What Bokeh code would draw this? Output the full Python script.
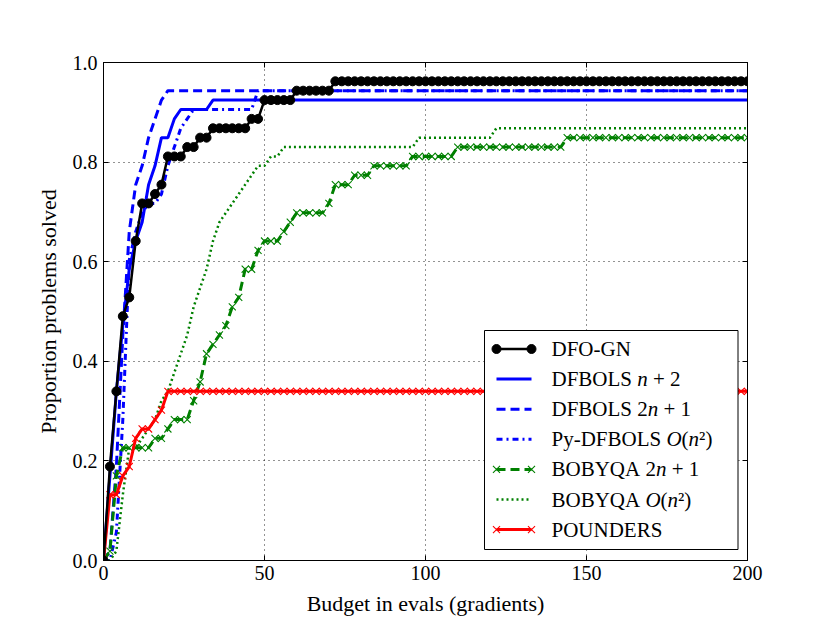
from bokeh.plotting import figure
from bokeh.models import Range1d, LinearAxis, FixedTicker, PrintfTickFormatter
from bokeh.core.properties import value
from bokeh.embed import file_html
from bokeh.resources import INLINE

# ---------------- data (counts of solved problems out of 53) ----------------
N_PROBLEMS = 53
BUDGET = list(range(0, 201, 2))          # budget in evals (gradients)
X_TICKS = [0, 50, 100, 150, 200]
Y_TICKS = [0.0, 0.2, 0.4, 0.6, 0.8, 1.0]

DFO_GN = ([0, 10, 18, 26, 28, 34, 38, 38, 39, 40, 43, 43, 43, 44, 44, 45, 45]
          + [46] * 6 + [47] * 2 + [49] * 5 + [50] * 6 + [51] * 65)
DFBOLS_NP2 = ([0, 9, 18, 25, 31, 34, 36, 40, 42, 45, 45, 47, 48]
              + [48] * 4 + [49] * 84)
DFBOLS_2NP1 = [0, 1, 10, 24, 35, 40, 42, 45, 47, 49] + [50] * 91
PY_DFBOLS_ON2 = ([0, 0, 3, 15, 32, 35, 37, 38, 38, 39, 42, 44, 46, 47]
                 + [48] * 10 + [50] * 77)
BOBYQA_2NP1 = ([0, 1, 9, 12, 12, 12, 12, 12, 13, 13, 14, 15, 15, 15, 17, 19,
                22, 23, 24, 25, 27, 28, 31, 31, 33, 34, 34, 34, 35, 36]
               + [37] * 5 + [38] * 1 + [40] * 3 + [41] * 3 + [42] * 6
               + [43] * 7 + [44] * 17 + [45] * 29)
BOBYQA_ON2 = ([0, 0, 1, 7, 12, 12, 13, 14, 15, 17, 18, 20, 22, 24, 27, 29,
               31, 34, 36, 37, 38, 39, 40, 41, 42, 42, 43, 43, 44]
              + [44] * 20 + [45] * 12 + [46] * 40)
POUNDERS = [0, 7, 7, 9, 10, 13, 14, 14, 15, 16] + [18] * 91

SERIES = [
    # label pieces, counts, color, width, dash, marker
    ([("DFBOLS ", False), ("n", True), (" + 2", False)], DFBOLS_NP2, "#0000ff", 3, "solid", None),
    ([("DFBOLS ", False), ("2", False), ("n", True), (" + 1", False)], DFBOLS_2NP1, "#0000ff", 3, "9 5", None),
    ([("Py-DFBOLS ", False), ("O", True), ("(", False), ("n", True), ("\u00b2)", False)], PY_DFBOLS_ON2, "#0000ff", 3, "6 4 2 4", None),
    ([("BOBYQA ", False), ("2", False), ("n", True), (" + 1", False)], BOBYQA_2NP1, "#008000", 3, "9 5", "x"),
    ([("BOBYQA ", False), ("O", True), ("(", False), ("n", True), ("\u00b2)", False)], BOBYQA_ON2, "#008000", 2.5, "2 3", None),
    ([("POUNDERS", False)], POUNDERS, "#ff0000", 3, "solid", "x"),
    ([("DFO-GN", False)], DFO_GN, "black", 2.5, "solid", "circle"),
]
LEGEND_ORDER = [6, 0, 1, 2, 3, 4, 5]

FONT = "Liberation Serif"

# ---------------- figure ----------------
p = figure(width=830, height=623, x_range=Range1d(0, 200), y_range=Range1d(0, 1),
           output_backend="svg", toolbar_location=None,
           min_border_left=103, min_border_right=83, min_border_top=62, min_border_bottom=63,
           background_fill_color="white", border_fill_color="white")
p.outline_line_color = "black"

xax = p.below[0]
yax = p.left[0]
top = LinearAxis()
right = LinearAxis()
p.add_layout(top, "above")
p.add_layout(right, "right")

for ax, ticks in ((xax, X_TICKS), (top, X_TICKS), (yax, Y_TICKS), (right, Y_TICKS)):
    ax.ticker = FixedTicker(ticks=ticks)
    ax.axis_line_color = "black"
    ax.major_tick_line_color = "black"
    ax.major_tick_in = 5
    ax.major_tick_out = 0
    ax.minor_tick_in = 0
    ax.minor_tick_out = 0
    ax.minor_tick_line_color = None
    ax.major_label_text_font = FONT
    ax.major_label_text_font_size = "20px"
    ax.major_label_text_color = "black"

top.major_label_text_color = None
right.major_label_text_color = None

xax.formatter = PrintfTickFormatter(format="%d")
yax.formatter = PrintfTickFormatter(format="%.1f")
xax.major_label_standoff = 5
yax.major_label_standoff = 6

for ax, lab, so in ((xax, "Budget in evals (gradients)", 8), (yax, "Proportion problems solved", 9)):
    ax.axis_label = lab
    ax.axis_label_text_font = FONT
    ax.axis_label_text_font_size = "22px"
    ax.axis_label_text_font_style = "normal"
    ax.axis_label_text_color = "black"
    ax.axis_label_standoff = so

p.grid.grid_line_color = "black"
p.grid.grid_line_dash = "1 4"
p.grid.grid_line_width = 1
p.grid.grid_line_alpha = 0.85

# ---------------- series ----------------
def frac(counts):
    return [c / N_PROBLEMS for c in counts]

for pieces, counts, color, lw, dash, marker in SERIES:
    ys = frac(counts)
    p.line(BUDGET, ys, line_color=color, line_width=lw, line_dash=dash)
    if marker == "circle":
        p.scatter(BUDGET, ys, marker="circle", size=9, fill_color=color, line_color=color)
    elif marker == "x":
        p.scatter(BUDGET, ys, marker="x", size=10, line_color=color, line_width=1.1)

# ---------------- legend (drawn manually to keep italic maths) ----------------
F_LEFT, F_TOP, F_W, F_H = 103.0, 62.0, 644.0, 498.0   # frame in page pixels


def dx(px):
    return (px - F_LEFT) / F_W * 200.0


def dy(py):
    return (F_TOP + F_H - py) / F_H * 1.0


p.quad(left=[dx(484)], right=[dx(737.5)], top=[dy(330)], bottom=[dy(549)],
       fill_color="white", line_color="black", line_width=1)

ROMAN = {' ': 250, 'D': 722, 'F': 556, 'O': 722, '-': 333, 'G': 722, 'N': 722, 'B': 667,
         'L': 611, 'S': 556, 'P': 556, 'y': 500, 'Y': 722, 'Q': 722, 'A': 722, 'U': 722,
         'R': 667, 'E': 611, '+': 564, '1': 500, '2': 500, '(': 333, ')': 333, '\u00b2': 300}
ITALIC = {'n': 500, 'O': 722, ' ': 250}
LEG_FS = 21.0

rom_x, rom_y, rom_t = [], [], []
ita_x, ita_y, ita_t = [], [], []
for row, idx in enumerate(LEGEND_ORDER):
    pieces, counts, color, lw, dash, marker = SERIES[idx]
    yc = 348.5 + 30.1 * row
    sx0, sx1 = 496.0, 531.0
    p.line([dx(sx0), dx(sx1)], [dy(yc), dy(yc)], line_color=color, line_width=lw, line_dash=dash)
    if marker == "circle":
        p.scatter([dx(sx0), dx(sx1)], [dy(yc), dy(yc)], marker="circle", size=9,
                  fill_color=color, line_color=color)
    elif marker == "x":
        p.scatter([dx(sx0), dx(sx1)], [dy(yc), dy(yc)], marker="x", size=10,
                  line_color=color, line_width=1.1)
    cur = 551.0
    for txt, ital in pieces:
        table = ITALIC if ital else ROMAN
        lead = len(txt) - len(txt.lstrip(' '))
        start = cur + lead * table[' '] / 1000.0 * LEG_FS
        width = sum(table.get(ch, 500) for ch in txt) / 1000.0 * LEG_FS
        if ital:
            ita_x.append(dx(start)); ita_y.append(dy(yc)); ita_t.append(txt.strip())
        else:
            rom_x.append(dx(start)); rom_y.append(dy(yc)); rom_t.append(txt.strip())
        cur += width

p.text(rom_x, rom_y, text=rom_t, text_font=value(FONT), text_font_size=value("21px"),
       text_font_style="normal", text_baseline="middle", text_align="left", text_color="black")
p.text(ita_x, ita_y, text=ita_t, text_font=value(FONT), text_font_size=value("21px"),
       text_font_style="italic", text_baseline="middle", text_align="left", text_color="black")

open("out.html", "w").write(file_html(p, INLINE))
